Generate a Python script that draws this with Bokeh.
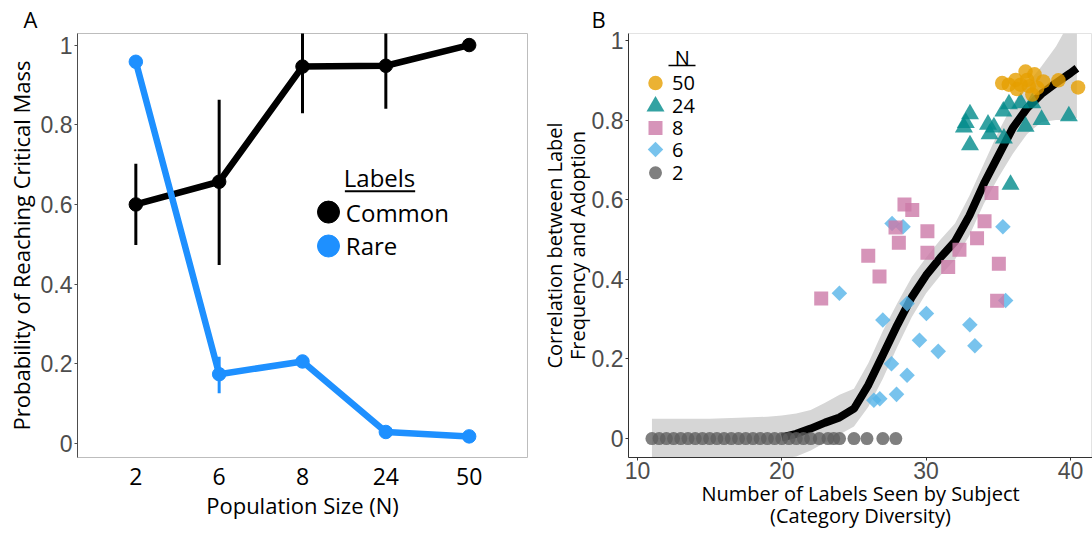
import math
from bokeh.plotting import figure
from bokeh.models import Range1d, FactorRange, FixedTicker, Label, CustomJSTickFormatter
from bokeh.layouts import row
from bokeh.embed import file_html
from bokeh.resources import INLINE

# ---------------- Panel A data ----------------
pop_sizes = ["2", "6", "8", "24", "50"]
common_prob = [0.600, 0.657, 0.946, 0.948, 1.000]
common_low = [0.498, 0.448, 0.829, 0.840, 1.000]
common_high = [0.702, 0.863, 1.060, 1.060, 1.000]
rare_prob = [0.958, 0.174, 0.206, 0.029, 0.018]
rare_low = [0.958, 0.126, 0.206, 0.029, 0.018]
rare_high = [0.958, 0.218, 0.206, 0.029, 0.018]
prob_ticks = [0, 0.2, 0.4, 0.6, 0.8, 1]

# ---------------- Panel B data ----------------
n50_x = [35.27, 35.73, 36.2, 36.55, 36.89, 37.51, 37.12, 37.36, 38.12, 37.0, 39.17, 40.53, 37.7, 36.3]
n50_y = [0.893, 0.889, 0.901, 0.889, 0.922, 0.915, 0.885, 0.864, 0.897, 0.901, 0.900, 0.882, 0.881, 0.878]
n24_x = [33.04, 32.62, 32.75, 33.04, 34.29, 34.7, 34.4, 35.35, 35.74, 36.55, 37.36, 35.39, 36.89, 38.0, 39.89, 35.85]
n24_y = [0.815, 0.782, 0.793, 0.737, 0.789, 0.782, 0.765, 0.822, 0.840, 0.843, 0.843, 0.754, 0.784, 0.801, 0.810, 0.638]
n8_x = [28.5, 29.04, 27.88, 28.11, 25.99, 26.77, 22.73, 30.09, 30.09, 32.31, 31.53, 33.53, 34.05, 34.53, 35.04, 34.92]
n8_y = [0.588, 0.574, 0.530, 0.492, 0.459, 0.407, 0.352, 0.521, 0.467, 0.474, 0.431, 0.503, 0.546, 0.617, 0.439, 0.346]
n6_x = [27.64, 28.4, 23.99, 28.68, 30.02, 27.0, 33.03, 29.54, 33.38, 30.84, 27.6, 28.68, 27.95, 26.38, 26.79, 35.51, 35.32]
n6_y = [0.540, 0.532, 0.365, 0.339, 0.314, 0.298, 0.286, 0.247, 0.233, 0.219, 0.188, 0.159, 0.111, 0.096, 0.100, 0.347, 0.532]
n2_x = [11, 11.5, 12, 12.5, 13, 13.5, 14, 14.5, 15, 15.5, 16, 16.5, 17, 17.5, 18, 18.5, 19, 19.5,
        20, 20.5, 21, 21.5, 22, 22.6, 23.2, 23.6, 24, 25, 25.9, 27, 27.9]
n2_y = [0.0] * 31

smooth_x = [11, 13, 15, 17, 19, 20, 21, 22, 23, 24, 25, 26, 27, 28, 29, 30, 31, 32, 33, 34, 35, 36, 37, 38, 39, 40, 40.45]
smooth_fit = [0, 0, 0, 0, 0, 0.003, 0.012, 0.025, 0.04, 0.053, 0.075, 0.135, 0.21, 0.285, 0.355, 0.41, 0.455, 0.495,
              0.56, 0.64, 0.71, 0.78, 0.83, 0.866, 0.893, 0.918, 0.93]
smooth_upper = [0.05, 0.05, 0.05, 0.052, 0.055, 0.058, 0.063, 0.072, 0.09, 0.11, 0.125, 0.19, 0.27, 0.34, 0.405, 0.455,
                0.5, 0.54, 0.61, 0.69, 0.77, 0.84, 0.89, 0.935, 0.985, 1.05, 1.08]
smooth_lower = [-0.05, -0.05, -0.05, -0.05, -0.05, -0.05, -0.045, -0.03, -0.01, 0.01, 0.03, 0.08, 0.15, 0.23, 0.305,
                0.365, 0.41, 0.45, 0.51, 0.59, 0.655, 0.715, 0.765, 0.795, 0.80, 0.80, 0.805]
b_xticks = [10, 20, 30, 40]

SANS = "Open Sans"
ARIAL = "Liberation Sans"
TICK_GREY = "#4d4d4d"
BLUE = "#1E90FF"

fmt = CustomJSTickFormatter(code="return String(Math.round(tick*10)/10)")


def style_title(p, text, offset):
    p.title.text = text
    p.title.align = "left"
    p.title.offset = offset
    p.title.standoff = 0
    p.title.text_font = SANS
    p.title.text_font_size = "22px"
    p.title.text_font_style = "normal"
    p.title.text_color = "black"


def style_axis_label(axis, text, size, standoff, line_height):
    axis.axis_label = text
    axis.axis_label_text_font = SANS
    axis.axis_label_text_font_size = size
    axis.axis_label_text_font_style = "normal"
    axis.axis_label_text_color = "black"
    axis.axis_label_standoff = standoff
    axis.axis_label_text_line_height = line_height


# ---------------- Panel A ----------------
A_L, A_R, A_T, A_B = 77, 527, 33, 458
AX0, AX1, AY0, AY1 = -0.1, 5.1, -0.035, 1.029


def ax(px):
    return AX0 + (px - A_L) / (A_R - A_L) * (AX1 - AX0)


def ay(py):
    return AY0 + (A_B - py) / (A_B - A_T) * (AY1 - AY0)


pA = figure(width=536, height=533, output_backend="svg", toolbar_location=None,
            x_range=FactorRange(factors=pop_sizes, range_padding=0.2, range_padding_units="absolute"),
            y_range=Range1d(AY0, AY1),
            min_border_left=A_L, min_border_right=536 - A_R, min_border_top=A_T, min_border_bottom=533 - A_B)
pA.grid.visible = False
pA.outline_line_color = "#bdbdbd"
pA.background_fill_color = "white"
pA.border_fill_color = "white"
style_title(pA, "A", -54)

pA.line(pop_sizes, common_prob, line_width=6.5, color="black")
pA.segment(pop_sizes, common_low, pop_sizes, common_high, line_width=3, color="black")
pA.scatter(pop_sizes, common_prob, size=13.5, color="black")
pA.line(pop_sizes, rare_prob, line_width=6.5, color=BLUE)
pA.segment(pop_sizes, rare_low, pop_sizes, rare_high, line_width=3, color=BLUE)
pA.scatter(pop_sizes, rare_prob, size=13.5, color=BLUE)

xa = pA.xaxis[0]
xa.axis_line_color = None
xa.major_tick_line_color = None
xa.major_tick_out = 0
xa.minor_tick_line_color = None
xa.major_label_standoff = 10
xa.major_label_text_font = SANS
xa.major_label_text_font_size = "23px"
xa.major_label_text_color = "black"
style_axis_label(xa, "Population Size (N)", "22px", 2, 1.15)

ya = pA.yaxis[0]
ya.ticker = FixedTicker(ticks=prob_ticks)
ya.formatter = fmt
ya.axis_line_color = "#4d4d4d"
ya.major_tick_line_color = "#4d4d4d"
ya.major_tick_out = 3
ya.major_tick_in = 0
ya.minor_tick_line_color = None
ya.major_label_standoff = 2
ya.major_label_text_font = ARIAL
ya.major_label_text_font_size = "23px"
ya.major_label_text_color = TICK_GREY
style_axis_label(ya, "Probability of Reaching Critical Mass", "22px", 2, 1.15)

# legend A
pA.scatter([ax(329)], [ay(212)], size=22, color="black")
pA.scatter([ax(329)], [ay(246)], size=22, color=BLUE)
pA.segment([ax(346)], [ay(191)], [ax(419)], [ay(191)], line_width=2, color="black")
pA.add_layout(Label(x=ax(382), y=ay(177), text="Labels", text_font=SANS, text_font_size="24px",
                    text_align="center", text_baseline="middle", text_color="black"))
pA.add_layout(Label(x=ax(347), y=ay(212), text="Common", text_font=SANS, text_font_size="24px",
                    text_align="left", text_baseline="middle", text_color="black"))
pA.add_layout(Label(x=ax(347), y=ay(246), text="Rare", text_font=SANS, text_font_size="24px",
                    text_align="left", text_baseline="middle", text_color="black"))

# ---------------- Panel B ----------------
B_FIG_LEFT = 536
B_L, B_R, B_T, B_B = 628, 1092, 32, 457
BX0, BX1, BY0, BY1 = 9.376, 41.53, -0.0476, 1.0175


def bx(px):
    return BX0 + (px - B_L) / (B_R - B_L) * (BX1 - BX0)


def by(py):
    return BY0 + (B_B - py) / (B_B - B_T) * (BY1 - BY0)


pB = figure(width=1092 - B_FIG_LEFT, height=533, output_backend="svg", toolbar_location=None,
            x_range=Range1d(BX0, BX1), y_range=Range1d(BY0, BY1),
            min_border_left=B_L - B_FIG_LEFT, min_border_right=0, min_border_top=B_T,
            min_border_bottom=533 - B_B)
pB.grid.visible = False
pB.outline_line_color = "#e3e3e3"
pB.background_fill_color = "white"
pB.border_fill_color = "white"
style_title(pB, "B", -37)

pB.varea(x=smooth_x, y1=smooth_lower, y2=smooth_upper, color="#d6d6d6")
line_x = [x for x in smooth_x if x >= 20]
line_y = [f for x, f in zip(smooth_x, smooth_fit) if x >= 20]
pB.line(line_x, line_y, line_width=8, color="black")

styles = [
    ("2", n2_x, n2_y, "circle", 13, "#5f5f5f", 0),
    ("6", n6_x, n6_y, "square", 11, "#56B4E9", math.pi / 4),
    ("8", n8_x, n8_y, "square", 14, "#CC79A7", 0),
    ("24", n24_x, n24_y, "triangle", 18, "#008B8B", 0),
    ("50", n50_x, n50_y, "circle", 14.5, "#E69F00", 0),
]
for name, xs, ys, mk, sz, col, ang in styles:
    pB.scatter(xs, ys, marker=mk, size=sz, angle=ang, fill_color=col, fill_alpha=0.8, line_color=None)

for axis in (pB.xaxis[0], pB.yaxis[0]):
    axis.axis_line_color = "#333333"
    axis.major_tick_line_color = "#333333"
    axis.major_tick_out = 3
    axis.major_tick_in = 0
    axis.minor_tick_line_color = None
    axis.major_label_text_font = ARIAL
    axis.major_label_text_font_size = "23px"
    axis.major_label_text_color = TICK_GREY
pB.xaxis[0].ticker = FixedTicker(ticks=b_xticks)
pB.xaxis[0].major_label_standoff = 1
pB.yaxis[0].ticker = FixedTicker(ticks=prob_ticks)
pB.yaxis[0].formatter = fmt
pB.yaxis[0].major_label_standoff = 2
style_axis_label(pB.xaxis[0], "Number of Labels Seen by Subject\n(Category Diversity)", "20px", -2, 0.85)
style_axis_label(pB.yaxis[0], "Correlation between Label\nFrequency and Adoption", "20px", -2, 0.85)

# legend B
legend_rows = [("50", 81.7), ("24", 105), ("8", 126.7), ("6", 148.3), ("2", 171.7)]
style_map = {s[0]: s for s in styles}
for name, py in legend_rows:
    _, _, _, mk, sz, col, ang = style_map[name]
    pB.scatter([bx(655)], [by(py)], marker=mk, size=sz, angle=ang, fill_color=col, fill_alpha=0.8, line_color=None)
    pB.add_layout(Label(x=bx(671.5), y=by(py), text=name, text_font=SANS, text_font_size="20px",
                        text_align="left", text_baseline="middle", text_color="black"))
pB.add_layout(Label(x=bx(681.7), y=by(56), text="N", text_font=SANS, text_font_size="20px",
                    text_align="center", text_baseline="middle", text_color="black"))
pB.segment([bx(668)], [by(64)], [bx(695)], [by(64)], line_width=1.5, color="black")

layout = row(pA, pB)
open("out.html", "w").write(file_html(layout, INLINE))
